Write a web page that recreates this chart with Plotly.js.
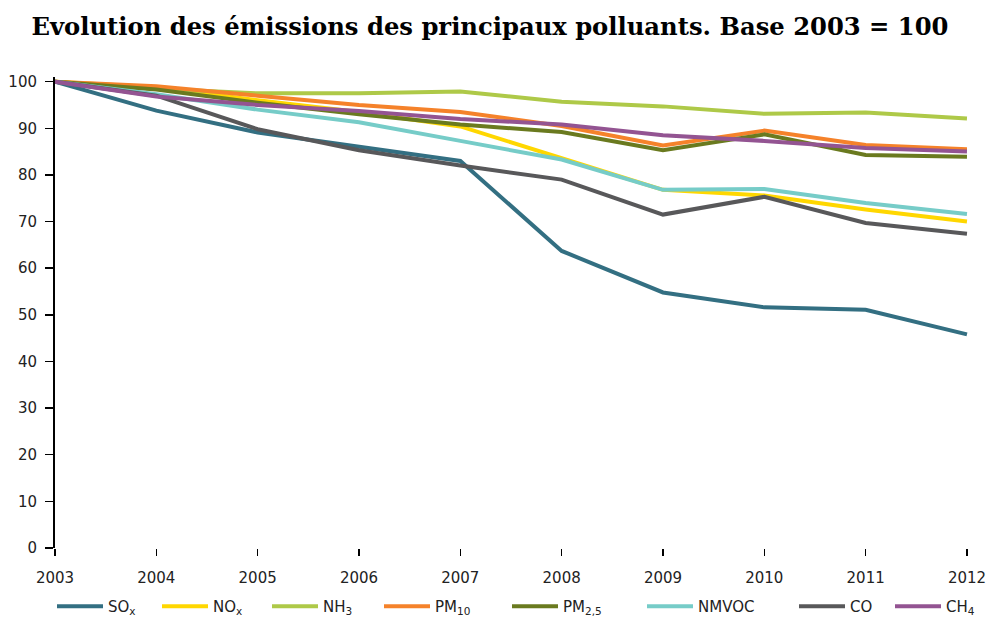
<!DOCTYPE html>
<html>
<head>
<meta charset="utf-8">
<script src="https://cdn.plot.ly/plotly-3.0.1.min.js"></script>
<style>body{margin:0;padding:0;background:#fff}#chart{width:989px;height:623px}</style>
</head>
<body>
<div id="chart"></div>
<script>
const years = [2003, 2004, 2005, 2006, 2007, 2008, 2009, 2010, 2011, 2012];
const seriesNames = ["SO<sub>x</sub>", "NO<sub>x</sub>", "NH<sub>3</sub>", "PM<sub>10</sub>", "PM<sub>2,5</sub>", "NMVOC", "CO", "CH<sub>4</sub>"];
const SOx   = [100, 93.8, 89.1, 86.0, 83.0, 63.7, 54.8, 51.6, 51.1, 45.8];
const NOx   = [100, 98.8, 96.0, 93.5, 90.4, 83.5, 76.8, 75.6, 72.6, 70.0];
const NH3   = [100, 98.5, 97.5, 97.5, 97.9, 95.7, 94.7, 93.1, 93.4, 92.1];
const PM10  = [100, 99.0, 97.0, 95.0, 93.5, 90.5, 86.3, 89.5, 86.4, 85.5];
const PM25  = [100, 98.3, 95.5, 93.0, 90.8, 89.2, 85.3, 88.7, 84.3, 83.9];
const NMVOC = [100, 97.3, 94.0, 91.3, 87.3, 83.3, 76.8, 77.0, 74.0, 71.6];
const CO    = [100, 97.0, 89.8, 85.3, 82.0, 79.0, 71.5, 75.3, 69.7, 67.4];
const CH4   = [100, 96.8, 95.0, 93.7, 92.0, 90.8, 88.5, 87.3, 85.8, 85.0];
const colors = ["#336f82", "#ffd700", "#aec948", "#f5822a", "#6a7a1f", "#76ccc8", "#58585a", "#935492"];
const allSeries = [SOx, NOx, NH3, PM10, PM25, NMVOC, CO, CH4];

// left edge (px) of each legend entry, as in the reference
const legendLeft = [55, 160, 270, 382, 510, 645, 797, 893];
const plotL = 55, plotR = 969, plotT = 77, plotB = 548;
const W = 989, H = 623;

const traces = allSeries.map((vals, i) => ({
  x: years, y: vals, name: seriesNames[i], type: "scatter", mode: "lines",
  line: {color: colors[i], width: 4},
  legend: i === 0 ? "legend" : "legend" + (i + 1)
}));

const layout = {
  width: W, height: H,
  margin: {l: plotL, r: W - plotR, t: plotT, b: H - plotB},
  paper_bgcolor: "#fff", plot_bgcolor: "#fff",
  title: {text: "<b>Evolution des émissions des principaux polluants. Base 2003 = 100</b>",
    font: {family: "DejaVu Serif, serif", size: 24.25, color: "#000"},
    x: 490 / W, xanchor: "center", xref: "container", y: 1 - 27 / H, yanchor: "middle", yref: "container"},
  xaxis: {range: [2003, 2012.02], tickmode: "array", tickvals: years, ticktext: years.map(String),
    showgrid: false, zeroline: false, showline: false, ticks: "outside", ticklen: 7, tickwidth: 1.5, tickcolor: "#000",
    ticklabelstandoff: 9, automargin: false,
    tickfont: {family: "DejaVu Sans, Verdana, sans-serif", size: 15, color: "#222"}},
  yaxis: {range: [0, 101], tickvals: [0,10,20,30,40,50,60,70,80,90,100],
    showgrid: false, zeroline: false, showline: true, linecolor: "#000", linewidth: 2,
    ticks: "outside", ticklen: 8, tickwidth: 1.5, tickcolor: "#000",
    ticklabelstandoff: 5, automargin: false,
    tickfont: {family: "DejaVu Sans, Verdana, sans-serif", size: 15, color: "#222"}},
  showlegend: true
};

legendLeft.forEach((px, i) => {
  const key = i === 0 ? "legend" : "legend" + (i + 1);
  layout[key] = {
    orientation: "h", xref: "paper", yref: "container",
    x: (px - plotL - 3) / (plotR - plotL), xanchor: "left",
    y: 0, yanchor: "bottom",
    bgcolor: "rgba(0,0,0,0)", borderwidth: 0, itemwidth: 46,
    font: {family: "DejaVu Sans, Verdana, sans-serif", size: 15, color: "#222"}
  };
});

Plotly.newPlot("chart", traces, layout, {displayModeBar: false, staticPlot: true});
</script>
</body>
</html>
